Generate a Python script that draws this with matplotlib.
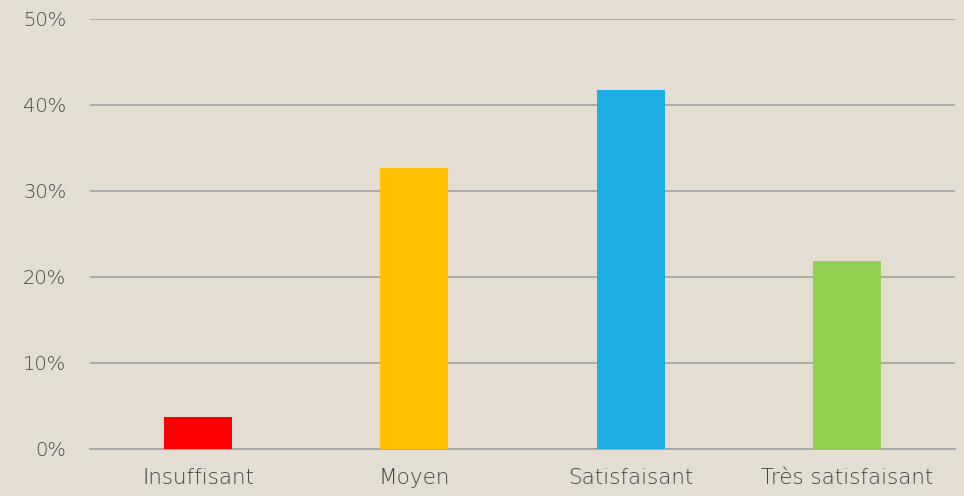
import matplotlib.pyplot as plt
from matplotlib.ticker import PercentFormatter

categories = ['Insuffisant', 'Moyen', 'Satisfaisant', 'Très satisfaisant']
values = [3.7, 32.7, 41.8, 21.9]
colors = ['#FF0000', '#FFC000', '#1CADE4', '#92D050']

bg = '#E3DDD2'
text_color = '#454545'

plt.rcParams['font.family'] = ['DejaVu Sans']
plt.rcParams['font.weight'] = 'light'

fig = plt.figure(figsize=(9.64, 4.96), dpi=100, facecolor=bg)
ax = fig.add_axes([90/964, 47/496, 865/964, 430/496])
ax.set_facecolor(bg)

x = range(len(categories))
ax.bar(x, values, width=0.315, color=colors, zorder=3)

ax.set_xlim(-0.5, 3.5)
ax.set_ylim(0, 50)
ax.set_yticks([0, 10, 20, 30, 40, 50])
ax.yaxis.set_major_formatter(PercentFormatter(decimals=0))
ax.set_xticks(list(x))
ax.set_xticklabels(categories)

ax.grid(axis='y', color='#A6A6A6', linewidth=1.3, zorder=0)
for s in ['top', 'right', 'left']:
    ax.spines[s].set_visible(False)
ax.spines['bottom'].set_color('#A6A6A6')
ax.spines['bottom'].set_linewidth(1.3)

ax.tick_params(axis='both', length=0, colors=text_color)
ax.tick_params(axis='x', labelsize=15.5, pad=14)
ax.tick_params(axis='y', labelsize=14, pad=17)

fig.savefig('out.png', dpi=100, facecolor=bg)
